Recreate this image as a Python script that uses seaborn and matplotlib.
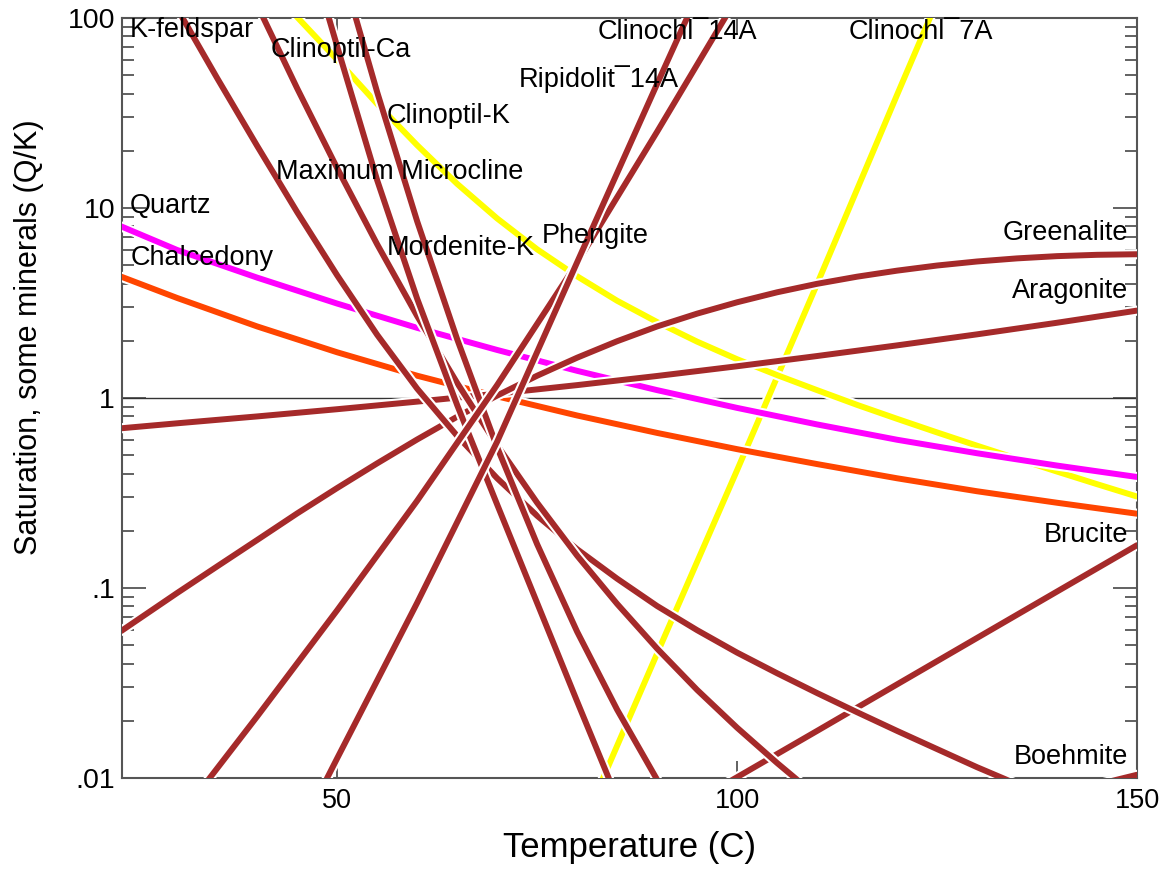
import matplotlib
matplotlib.use("Agg")
import numpy as np
import pandas as pd
import matplotlib.pyplot as plt
import matplotlib.patheffects as pe
from matplotlib.ticker import FixedLocator, LogLocator, NullFormatter
import seaborn as sns

# Saturation state Q/K of selected minerals versus temperature (C)
quartz_T = [23, 30, 40, 50, 60, 70, 80, 90, 100, 110, 120, 130, 140, 150]
quartz_Q = [8.0, 6.01, 4.30, 3.14, 2.34, 1.79, 1.39, 1.10, 0.887, 0.726, 0.603, 0.512, 0.441, 0.384]

chalcedony_T = [23, 30, 40, 50, 60, 70, 80, 90, 100, 110, 120, 130, 140, 150]
chalcedony_Q = [4.35, 3.36, 2.38, 1.74, 1.31, 1.02, 0.809, 0.655, 0.538, 0.449, 0.378, 0.323, 0.281, 0.246]

aragonite_T = [23, 30, 40, 50, 60, 70, 80, 90, 100, 110, 120, 130, 140, 150]
aragonite_Q = [0.693, 0.736, 0.800, 0.873, 0.957, 1.054, 1.169, 1.306, 1.469, 1.663, 1.892, 2.163, 2.489, 2.884]

greenalite_T = [23, 30, 35, 40, 45, 50, 55, 60, 65, 70, 75, 80, 85, 90, 95, 100,
                105, 110, 115, 120, 125, 130, 135, 140, 145, 150]
greenalite_Q = [0.0594, 0.0942, 0.130, 0.179, 0.247, 0.336, 0.453, 0.605, 0.797, 1.03,
                1.31, 1.63, 1.99, 2.38, 2.78, 3.19, 3.60, 3.99, 4.35, 4.68, 4.98, 5.23,
                5.43, 5.58, 5.67, 5.71]

brucite_T = [95, 100, 110, 120, 130, 140, 150]
brucite_Q = [0.00766, 0.0101, 0.0177, 0.0311, 0.0546, 0.0958, 0.168]

boehmite_T = [140, 150]
boehmite_Q = [0.0082, 0.0104]

clinochl7a_T = [80, 90, 100, 110, 120, 130]
clinochl7a_Q = [0.00483, 0.0452, 0.417, 3.98, 39.4, 380]

clinoptil_k_T = [40, 45, 50, 55, 60, 65, 70, 75, 80, 85, 90, 95, 100, 105, 110,
                 115, 120, 125, 130, 135, 140, 145, 150]
clinoptil_k_Q = [170, 101, 60.3, 35.3, 21.4, 13.4, 8.81, 6.06, 4.37, 3.25, 2.51, 1.98,
                 1.60, 1.32, 1.10, 0.920, 0.777, 0.659, 0.561, 0.479, 0.410, 0.352, 0.303]

kfeldspar_T = [25, 30, 35, 40, 45, 50, 55, 60, 65, 70, 75, 80, 85, 90, 95, 100,
               105, 110, 115, 120, 125, 130, 135, 140]
kfeldspar_Q = [262, 112, 48.2, 21.2, 9.51, 4.42, 2.15, 1.12, 0.632, 0.378, 0.240,
               0.160, 0.112, 0.0804, 0.0600, 0.0457, 0.0356, 0.0280, 0.0222, 0.0177,
               0.0142, 0.0114, 0.00928, 0.00757]

microcline_T = [35, 40, 45, 50, 55, 60, 65, 70, 75, 80, 85, 90, 95, 100, 105, 110]
microcline_Q = [332, 117, 42.6, 16.2, 6.44, 2.70, 1.20, 0.564, 0.281, 0.148, 0.0825,
                0.0480, 0.0291, 0.0184, 0.0120, 0.0080]

clinoptil_ca_T = [45, 50, 55, 60, 65, 70, 80, 85]
clinoptil_ca_Q = [372, 70.8, 14.0, 3.33, 0.918, 0.275, 0.0253, 0.0078]

mordenite_T = [50, 55, 60, 65, 70, 75, 80, 85, 90, 95]
mordenite_Q = [219, 40.7, 8.51, 2.04, 0.550, 0.170, 0.0589, 0.0229, 0.0098, 0.0047]

clinochl14a_T = [30, 40, 50, 60, 70, 80, 90, 100]
clinochl14a_Q = [0.006, 0.0211, 0.0764, 0.288, 1.17, 5.15, 25.2, 128]

ripidolit_T = [45, 50, 60, 70, 80, 90, 95]
ripidolit_Q = [0.0049, 0.0127, 0.0836, 0.589, 5.18, 45.0, 131]

series = [
    ("Clinochl¯7A", clinochl7a_T, clinochl7a_Q),
    ("Clinoptil-K", clinoptil_k_T, clinoptil_k_Q),
    ("Chalcedony", chalcedony_T, chalcedony_Q),
    ("Quartz", quartz_T, quartz_Q),
    ("Aragonite", aragonite_T, aragonite_Q),
    ("Greenalite", greenalite_T, greenalite_Q),
    ("Brucite", brucite_T, brucite_Q),
    ("Boehmite", boehmite_T, boehmite_Q),
    ("K-feldspar", kfeldspar_T, kfeldspar_Q),
    ("Maximum Microcline", microcline_T, microcline_Q),
    ("Clinoptil-Ca", clinoptil_ca_T, clinoptil_ca_Q),
    ("Mordenite-K", mordenite_T, mordenite_Q),
    ("Clinochl¯14A", clinochl14a_T, clinochl14a_Q),
    ("Ripidolit¯14A", ripidolit_T, ripidolit_Q),
]

BROWN = "#A52A2A"
palette = {name: BROWN for name, _, _ in series}
palette.update({"Quartz": "#FF00FF", "Chalcedony": "#FF4500",
                "Clinochl¯7A": "#FFFF00", "Clinoptil-K": "#FFFF00"})

df = pd.concat(
    [pd.DataFrame({"mineral": name, "T": t, "Q": q}) for name, t, q in series],
    ignore_index=True,
)

# label placement in axes-fraction coordinates
labels = [
    ("K-feldspar", 0.008, 0.984, "left"),
    ("Clinoptil-Ca", 0.146, 0.958, "left"),
    ("Clinochl¯14A", 0.469, 0.982, "left"),
    ("Clinochl¯7A", 0.716, 0.982, "left"),
    ("Ripidolit¯14A", 0.391, 0.920, "left"),
    ("Clinoptil-K", 0.261, 0.871, "left"),
    ("Maximum Microcline", 0.152, 0.797, "left"),
    ("Quartz", 0.008, 0.753, "left"),
    ("Phengite", 0.414, 0.713, "left"),
    ("Mordenite-K", 0.261, 0.697, "left"),
    ("Chalcedony", 0.008, 0.684, "left"),
    ("Greenalite", 0.991, 0.717, "right"),
    ("Aragonite", 0.991, 0.641, "right"),
    ("Brucite", 0.991, 0.320, "right"),
    ("Boehmite", 0.991, 0.028, "right"),
]

sns.set_style("ticks")
plt.rcParams["font.family"] = ["Liberation Sans", "DejaVu Sans"]
plt.rcParams["text.color"] = "black"
plt.rcParams["axes.labelcolor"] = "black"

fig = plt.figure(figsize=(11.7, 8.69), dpi=100)
ax = fig.add_axes([0.1043, 0.1047, 0.8675, 0.8746])
ax.set_yscale("log")
ax.set_xlim(23.1, 150)
ax.set_ylim(0.01, 100)

ax.axhline(1, color="#333333", lw=1.0, zorder=1.5)

LW = 4.3
sns.lineplot(
    data=df, x="T", y="Q", hue="mineral", hue_order=[s[0] for s in series],
    palette=palette, estimator=None, errorbar=None, legend=False, ax=ax,
    lw=LW, solid_capstyle="round", solid_joinstyle="round", zorder=3,
    path_effects=[pe.Stroke(linewidth=LW + 3.0, foreground="white"), pe.Normal()],
)

for text, fx, fy, ha in labels:
    ax.text(fx, fy, text, transform=ax.transAxes, ha=ha, va="center",
            fontsize=19.5, color="black", zorder=6)

# axes, ticks
for sp in ax.spines.values():
    sp.set_color("#555555")
    sp.set_linewidth(1.5)
    sp.set_zorder(2.5)

ax.yaxis.set_major_locator(FixedLocator([0.01, 0.1, 1, 10, 100]))
ax.set_yticklabels([".01", ".1", "1", "10", "100"])
ax.yaxis.set_minor_locator(LogLocator(base=10, subs=np.arange(2, 10)))
ax.yaxis.set_minor_formatter(NullFormatter())
ax.set_xticks([50, 100, 150])
ax.set_xticklabels(["50", "100", "150"])

ax.tick_params(axis="y", which="major", direction="in", left=True, right=True,
               length=17, width=1.3, color="#555555", labelsize=20.5,
               labelcolor="black", pad=5)
ax.tick_params(axis="y", which="minor", direction="in", left=True, right=True,
               length=8.5, width=1.3, color="#555555")
ax.tick_params(axis="x", which="major", direction="in", top=True, bottom=True,
               length=12, width=1.3, color="#555555", labelsize=19.5,
               labelcolor="black", pad=7)
ax.tick_params(axis="x", which="minor", bottom=False, top=False)

ax.set_xlabel("Temperature (C)", fontsize=25, color="black")
ax.set_ylabel("Saturation, some minerals (Q/K)", fontsize=22, color="black")
ax.xaxis.set_label_coords(0.5, -0.07)
ax.yaxis.set_label_coords(-0.077, 0.58)

fig.savefig("out.png", dpi=100, facecolor="white")
